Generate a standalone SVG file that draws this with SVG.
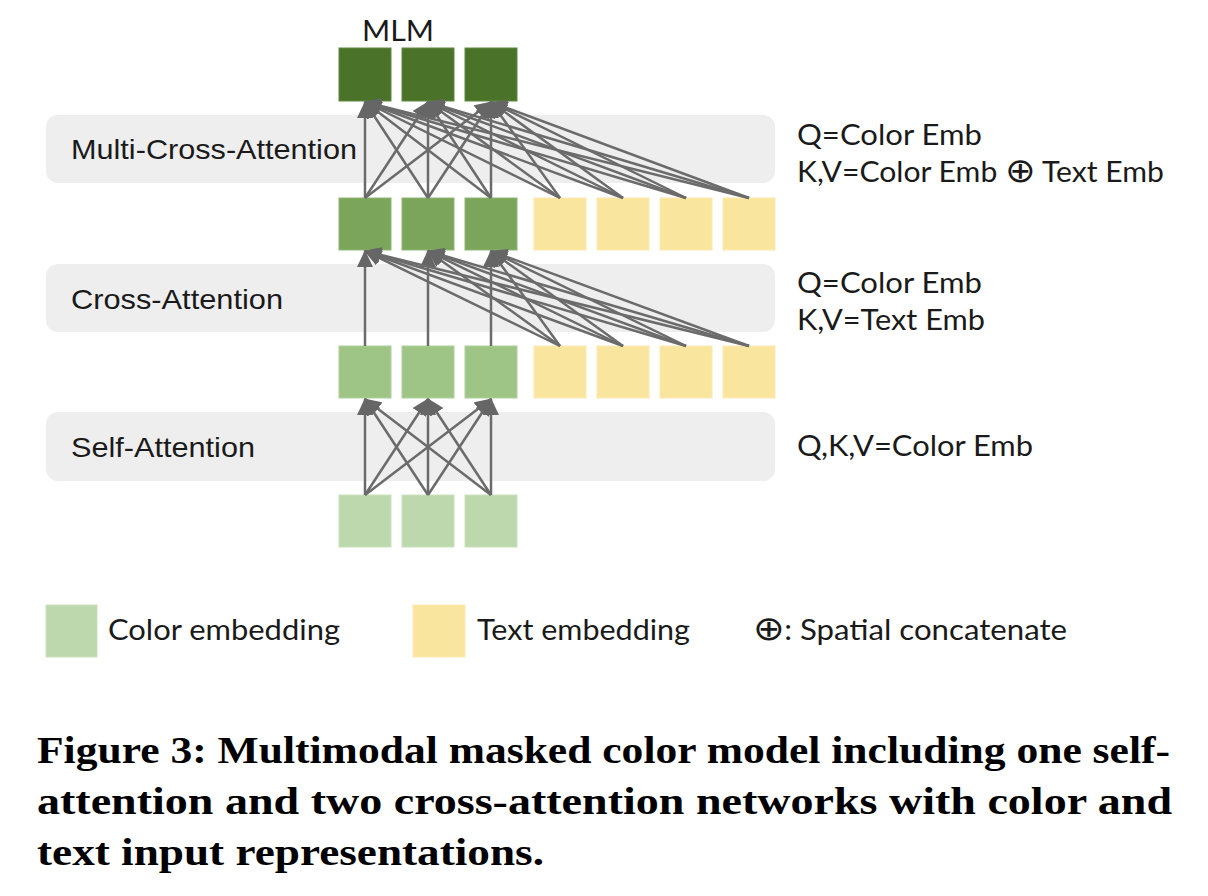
<svg xmlns="http://www.w3.org/2000/svg" width="1208" height="896" viewBox="0 0 1208 896">
<defs>
<marker id="ah" markerUnits="userSpaceOnUse" markerWidth="17" markerHeight="16" viewBox="0 0 17 16" refX="16" refY="8" orient="auto">
<path d="M0,0 L17,8 L0,16 z" fill="#666666"/>
</marker>
<style>
.band{fill:#eeeeee}
.lab{font-family:"Liberation Sans",Arial,sans-serif;font-size:28px;fill:#1a1a1a}
.note{font-family:Lato,"DejaVu Sans",sans-serif;font-size:28px;fill:#1a1a1a}
.op{font-family:"DejaVu Sans",sans-serif;font-size:34px;font-weight:200}
.cap{font-family:"Liberation Serif","Times New Roman",serif;font-weight:bold;font-size:37px;fill:#000}
.c1{fill:#4a7329;stroke:#5f8a3f;stroke-width:1}
.c2{fill:#7aa55b;stroke:#8fb873;stroke-width:1}
.c3{fill:#9ec486;stroke:#b0d09b;stroke-width:1}
.c4{fill:#bcd8ac;stroke:#cbe1bd;stroke-width:1}
.t{fill:#fae59f;stroke:#fbeab0;stroke-width:1}
.e{stroke:#6b6b6b;stroke-width:2.5;fill:none;marker-end:url(#ah)}
</style>
</defs>
<rect width="1208" height="896" fill="#ffffff"/>

<g id="band-multi"><rect class="band" x="46" y="115" width="729" height="68" rx="12"/><text class="lab" x="71" y="159" textLength="286" lengthAdjust="spacingAndGlyphs">Multi-Cross-Attention</text></g>
<g id="band-cross"><rect class="band" x="46" y="264" width="729" height="68" rx="12"/><text class="lab" x="71" y="309" textLength="212" lengthAdjust="spacingAndGlyphs">Cross-Attention</text></g>
<g id="band-self"><rect class="band" x="46" y="412" width="729" height="69" rx="12"/><text class="lab" x="71" y="457" textLength="184" lengthAdjust="spacingAndGlyphs">Self-Attention</text></g>

<g id="mlm-label"><text class="note" x="362" y="41" font-size="29" textLength="72" lengthAdjust="spacingAndGlyphs">MLM</text></g>

<g id="row-mlm">
<rect class="c1" x="339" y="48" width="52" height="53"/>
<rect class="c1" x="402" y="48" width="52" height="53"/>
<rect class="c1" x="465" y="48" width="52" height="53"/>
</g>
<g id="row-2">
<rect class="c2" x="339" y="198" width="52" height="52"/>
<rect class="c2" x="402" y="198" width="52" height="52"/>
<rect class="c2" x="465" y="198" width="52" height="52"/>
<rect class="t" x="534" y="198" width="52" height="52"/>
<rect class="t" x="597" y="198" width="52" height="52"/>
<rect class="t" x="660" y="198" width="52" height="52"/>
<rect class="t" x="723" y="198" width="52" height="52"/>
</g>
<g id="row-3">
<rect class="c3" x="339" y="346" width="52" height="52"/>
<rect class="c3" x="402" y="346" width="52" height="52"/>
<rect class="c3" x="465" y="346" width="52" height="52"/>
<rect class="t" x="534" y="346" width="52" height="52"/>
<rect class="t" x="597" y="346" width="52" height="52"/>
<rect class="t" x="660" y="346" width="52" height="52"/>
<rect class="t" x="723" y="346" width="52" height="52"/>
</g>
<g id="row-4">
<rect class="c4" x="339" y="495" width="52" height="52"/>
<rect class="c4" x="402" y="495" width="52" height="52"/>
<rect class="c4" x="465" y="495" width="52" height="52"/>
</g>

<g id="connectors">
<line class="e" x1="365" y1="495" x2="365" y2="399"/>
<line class="e" x1="365" y1="495" x2="428" y2="399"/>
<line class="e" x1="365" y1="495" x2="491" y2="399"/>
<line class="e" x1="428" y1="495" x2="365" y2="399"/>
<line class="e" x1="428" y1="495" x2="428" y2="399"/>
<line class="e" x1="428" y1="495" x2="491" y2="399"/>
<line class="e" x1="491" y1="495" x2="365" y2="399"/>
<line class="e" x1="491" y1="495" x2="428" y2="399"/>
<line class="e" x1="491" y1="495" x2="491" y2="399"/>
<line class="e" x1="365" y1="346" x2="365" y2="251"/>
<line class="e" x1="428" y1="346" x2="428" y2="251"/>
<line class="e" x1="491" y1="346" x2="491" y2="251"/>
<line class="e" x1="560" y1="346" x2="365" y2="251"/>
<line class="e" x1="560" y1="346" x2="428" y2="251"/>
<line class="e" x1="560" y1="346" x2="491" y2="251"/>
<line class="e" x1="623" y1="346" x2="365" y2="251"/>
<line class="e" x1="623" y1="346" x2="428" y2="251"/>
<line class="e" x1="623" y1="346" x2="491" y2="251"/>
<line class="e" x1="686" y1="346" x2="365" y2="251"/>
<line class="e" x1="686" y1="346" x2="428" y2="251"/>
<line class="e" x1="686" y1="346" x2="491" y2="251"/>
<line class="e" x1="749" y1="346" x2="365" y2="251"/>
<line class="e" x1="749" y1="346" x2="428" y2="251"/>
<line class="e" x1="749" y1="346" x2="491" y2="251"/>
<line class="e" x1="365" y1="198" x2="365" y2="102"/>
<line class="e" x1="365" y1="198" x2="428" y2="102"/>
<line class="e" x1="365" y1="198" x2="491" y2="102"/>
<line class="e" x1="428" y1="198" x2="365" y2="102"/>
<line class="e" x1="428" y1="198" x2="428" y2="102"/>
<line class="e" x1="428" y1="198" x2="491" y2="102"/>
<line class="e" x1="491" y1="198" x2="365" y2="102"/>
<line class="e" x1="491" y1="198" x2="428" y2="102"/>
<line class="e" x1="491" y1="198" x2="491" y2="102"/>
<line class="e" x1="560" y1="198" x2="365" y2="102"/>
<line class="e" x1="560" y1="198" x2="428" y2="102"/>
<line class="e" x1="560" y1="198" x2="491" y2="102"/>
<line class="e" x1="623" y1="198" x2="365" y2="102"/>
<line class="e" x1="623" y1="198" x2="428" y2="102"/>
<line class="e" x1="623" y1="198" x2="491" y2="102"/>
<line class="e" x1="686" y1="198" x2="365" y2="102"/>
<line class="e" x1="686" y1="198" x2="428" y2="102"/>
<line class="e" x1="686" y1="198" x2="491" y2="102"/>
<line class="e" x1="749" y1="198" x2="365" y2="102"/>
<line class="e" x1="749" y1="198" x2="428" y2="102"/>
<line class="e" x1="749" y1="198" x2="491" y2="102"/>
</g>

<g id="notes">
<text class="note" x="797" y="145" textLength="185" lengthAdjust="spacingAndGlyphs">Q=Color Emb</text>
<text class="note" x="797" y="182" textLength="367" lengthAdjust="spacingAndGlyphs">K,V=Color Emb <tspan class="op">⊕</tspan> Text Emb</text>
<text class="note" x="797" y="293" textLength="185" lengthAdjust="spacingAndGlyphs">Q=Color Emb</text>
<text class="note" x="797" y="330" textLength="188" lengthAdjust="spacingAndGlyphs">K,V=Text Emb</text>
<text class="note" x="797" y="456" textLength="236" lengthAdjust="spacingAndGlyphs">Q,K,V=Color Emb</text>
</g>

<g id="legend">
<rect class="c4" x="46" y="605" width="51" height="52"/>
<text class="note" x="108" y="640" textLength="232" lengthAdjust="spacingAndGlyphs">Color embedding</text>
<rect class="t" x="413" y="605" width="52" height="52"/>
<text class="note" x="477" y="640" textLength="213" lengthAdjust="spacingAndGlyphs">Text embedding</text>
<text class="note" x="753" y="640" textLength="314" lengthAdjust="spacingAndGlyphs"><tspan class="op">⊕</tspan>: Spatial concatenate</text>
</g>

<g id="caption">
<text class="cap" x="37" y="763" textLength="1133" lengthAdjust="spacingAndGlyphs">Figure 3: Multimodal masked color model including one self-</text>
<text class="cap" x="37" y="814" textLength="1135" lengthAdjust="spacingAndGlyphs">attention and two cross-attention networks with color and</text>
<text class="cap" x="37" y="865" textLength="507" lengthAdjust="spacingAndGlyphs">text input representations.</text>
</g>
</svg>
